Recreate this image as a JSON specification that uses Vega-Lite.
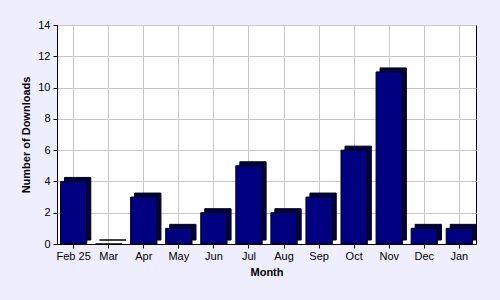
{
  "$schema": "https://vega.github.io/schema/vega-lite/v6.json",
  "width": 419,
  "height": 219,
  "autosize": {"type": "none"},
  "padding": {"left": 57, "top": 25, "right": 24, "bottom": 56},
  "background": "#EEEEFF",
  "config": {
    "view": {"fill": "white", "stroke": "black", "strokeWidth": 1},
    "font": "Liberation Sans",
    "axis": {
      "labelFont": "Liberation Sans",
      "titleFont": "Liberation Sans",
      "labelFontSize": 11,
      "titleFontSize": 11,
      "titleFontWeight": "bold",
      "labelColor": "black",
      "titleColor": "black",
      "domainColor": "black",
      "tickColor": "black",
      "gridColor": "#c8c8c8",
      "gridWidth": 1
    }
  },
  "data": {
    "values": [
      {"month": "Feb 25", "downloads": 4},
      {"month": "Mar", "downloads": 0},
      {"month": "Apr", "downloads": 3},
      {"month": "May", "downloads": 1},
      {"month": "Jun", "downloads": 2},
      {"month": "Jul", "downloads": 5},
      {"month": "Aug", "downloads": 2},
      {"month": "Sep", "downloads": 3},
      {"month": "Oct", "downloads": 6},
      {"month": "Nov", "downloads": 11},
      {"month": "Dec", "downloads": 1},
      {"month": "Jan", "downloads": 1}
    ]
  },
  "encoding": {
    "x": {
      "field": "month",
      "type": "nominal",
      "sort": null,
      "title": "Month",
      "scale": {"paddingInner": 0.25, "paddingOuter": 0.1},
      "axis": {"labelAngle": 0, "grid": true, "bandPosition": 0.5, "tickSize": 4, "labelPadding": 2, "titlePadding": 5}
    },
    "y": {
      "field": "downloads",
      "type": "quantitative",
      "title": "Number of Downloads",
      "scale": {"domain": [0, 14]},
      "axis": {"values": [0, 2, 4, 6, 8, 10, 12, 14], "tickSize": 4, "labelPadding": 3, "titlePadding": 6}
    }
  },
  "layer": [
    {"mark": {"type": "bar", "color": "#00004a", "stroke": "black", "strokeWidth": 1, "xOffset": 4, "yOffset": -4}},
    {"mark": {"type": "bar", "color": "#000080", "stroke": "black", "strokeWidth": 1}}
  ]
}
